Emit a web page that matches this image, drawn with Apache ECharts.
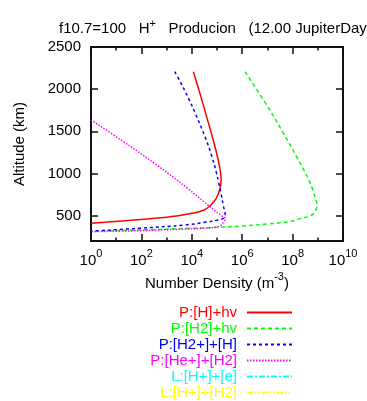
<!DOCTYPE html>
<html><head><meta charset="utf-8">
<script src="https://cdn.jsdelivr.net/npm/echarts@6/dist/echarts.min.js"></script>
<style>html,body{margin:0;padding:0;background:#fff}#c{width:367px;height:401px}</style>
</head><body><div id="c"></div>
<script>
// ---- tick labels ----
const altitudeTicks = [500, 1000, 1500, 2000, 2500];
const densityMajorTicks = [1, 1e2, 1e4, 1e6, 1e8, 1e10];
const densityMinorTicks = [1e1, 1e3, 1e5, 1e7, 1e9];

// ---- series names ----
const seriesNames = ['P:[H]+hv', 'P:[H2]+hv', 'P:[H2+]+[H]', 'P:[He+]+[H2]', 'L:[H+]+[e]', 'L:[H+]+[H2]'];

// ---- series values (altitude km, number density m^-3) ----
const hPhotoAlt = [2207, 1950, 1672, 1395, 1158, 1000, 921, 823, 704, 624, 565, 525, 497, 469, 437, 410];
const hPhotoDen = [1.15e4, 2.1e4, 3.9e4, 7.1e4, 1.12e5, 1.4e5, 1.45e5, 1.32e5, 9.3e4, 5.6e4, 2.9e4, 8.9e3, 2.5e3, 340, 16, 1];

const h2PhotoAlt = [2207, 1750, 1500, 1200, 1000, 924, 808, 700, 620, 552, 508, 453, 429, 401, 377, 362, 350, 330, 318];
const h2PhotoDen = [1.3e6, 1.26e7, 3.9e7, 1.45e8, 3.3e8, 4.4e8, 6.3e8, 8.1e8, 9.3e8, 7.8e8, 5.8e8, 1.45e8, 7.9e7, 9.3e6, 8.1e5, 1.1e5, 7.1e3, 74, 1];

const h2pHAlt = [2208, 2088, 1873, 1720, 1420, 1200, 1020, 888, 762, 611, 520, 470, 449, 421, 390, 350, 318];
const h2pHDen = [2.1e3, 3.5e3, 7.9e3, 1.35e4, 3.5e4, 6.3e4, 9.3e4, 1.17e5, 1.45e5, 1.8e5, 2.1e5, 1.8e5, 1.1e5, 3.3e4, 5.4e3, 74, 1];

const hepH2Alt = [1636, 1395, 1118, 820, 658, 500, 469, 400, 370, 350, 342, 328, 322, 310];
const hepH2Den = [1, 16, 340, 7.1e3, 3.2e4, 1.5e5, 2.1e5, 1.6e5, 1.1e5, 2.5e4, 5.4e3, 316, 74, 1];

const hpEAlt = [];
const hpEDen = [];
const hpH2Alt = [];
const hpH2Den = [];

const colors = ['#ff0000', '#00ff00', '#0000ff', '#ff00ff', '#00ffff', '#ffff00'];
const dashes = ['solid', [4, 3], [3, 3], [1.5, 1.5], [6, 2, 2, 2], [6, 2, 1.5, 2, 1.5, 2]];
const altArrays = [hPhotoAlt, h2PhotoAlt, h2pHAlt, hepH2Alt, hpEAlt, hpH2Alt];
const denArrays = [hPhotoDen, h2PhotoDen, h2pHDen, hepH2Den, hpEDen, hpH2Den];

const FONT = 'Liberation Sans';
const AXIS_COLOR = '#111';

const series = seriesNames.map((name, i) => ({
  name: name,
  type: 'line',
  xAxisIndex: 0,
  yAxisIndex: 0,
  showSymbol: false,
  symbol: 'none',
  smooth: 0.4,
  color: colors[i],
  lineStyle: { color: colors[i], width: 1.5, type: dashes[i] },
  data: denArrays[i].map((d, j) => [d, altArrays[i][j]])
}));

const supRich = {
  b: { fontFamily: FONT, fontSize: 15, color: '#000', lineHeight: 20, verticalAlign: 'bottom' },
  s: { fontFamily: FONT, fontSize: 11, color: '#000', lineHeight: 12, verticalAlign: 'top' }
};

function logAxis(position, ticks, len, showLine, showLabel) {
  return {
    type: 'log', logBase: 10, min: 1, max: 1e10, position: position, gridIndex: 0,
    axisLine: { show: showLine, lineStyle: { color: AXIS_COLOR, width: 2 } },
    axisTick: { show: true, inside: true, length: len, customValues: ticks, lineStyle: { color: AXIS_COLOR, width: 1.5 } },
    axisLabel: showLabel ? {
      show: true, customValues: ticks, margin: 7,
      formatter: v => '{b|10}{s|' + Math.round(Math.log10(v)) + '}',
      rich: supRich
    } : { show: false },
    splitLine: { show: false },
    minorTick: { show: false }
  };
}

const xAxes = [
  Object.assign(logAxis('bottom', densityMajorTicks, 7, true, true), {
    name: '{b|Number Density (m}{s|-3}{b|)}',
    nameLocation: 'middle', nameGap: 30,
    nameTextStyle: { rich: supRich }
  }),
  logAxis('bottom', densityMinorTicks, 3.5, false, false),
  logAxis('top', densityMajorTicks, 7, true, false),
  logAxis('top', densityMinorTicks, 3.5, false, false)
];

function altAxis(position, showLabel) {
  return {
    type: 'value', min: 200, max: 2500, position: position, gridIndex: 0,
    axisLine: { show: true, lineStyle: { color: AXIS_COLOR, width: 2 } },
    axisTick: { show: true, inside: true, length: 7, customValues: altitudeTicks, lineStyle: { color: AXIS_COLOR, width: 1.5 } },
    axisLabel: showLabel ? {
      show: true, customValues: altitudeTicks, margin: 10, fontFamily: FONT, fontSize: 15, color: '#000',
      formatter: v => String(v)
    } : { show: false },
    splitLine: { show: false }
  };
}

const yAxes = [
  Object.assign(altAxis('left', true), {
    name: 'Altitude (km)', nameLocation: 'middle', nameGap: 64,
    nameTextStyle: { fontFamily: FONT, fontSize: 15, color: '#000' }
  }),
  altAxis('right', false)
];

const chart = echarts.init(document.getElementById('c'), null, { renderer: 'canvas' });
chart.setOption({
  backgroundColor: '#fff',
  animation: false,
  title: {
    text: '{a|f10.7=100   H}{s|+}{a|   Producion   (12.00 JupiterDay}',
    left: 54, top: 13,
    textStyle: {
      fontWeight: 'normal',
      rich: {
        a: { fontFamily: FONT, fontSize: 15, fontWeight: 'normal', color: '#000', lineHeight: 18, verticalAlign: 'bottom' },
        s: { fontFamily: FONT, fontSize: 11, fontWeight: 'normal', color: '#000', lineHeight: 12, verticalAlign: 'top' }
      }
    }
  },
  grid: { left: 91, right: 24, top: 47, bottom: 160, containLabel: false },
  xAxis: xAxes,
  yAxis: yAxes,
  legend: {
    orient: 'vertical',
    right: 74, top: 305,
    padding: 0,
    height: 120,
    align: 'right',
    itemWidth: 45, itemHeight: 14, itemGap: 1,
    itemStyle: { opacity: 0 },
    data: seriesNames.map((n, i) => ({ name: n, textStyle: { color: colors[i] } })),
    textStyle: { fontFamily: FONT, fontSize: 15, lineHeight: 14, padding: [0, 5, 0, 0] }
  },
  series: series
});
</script>
</body></html>
